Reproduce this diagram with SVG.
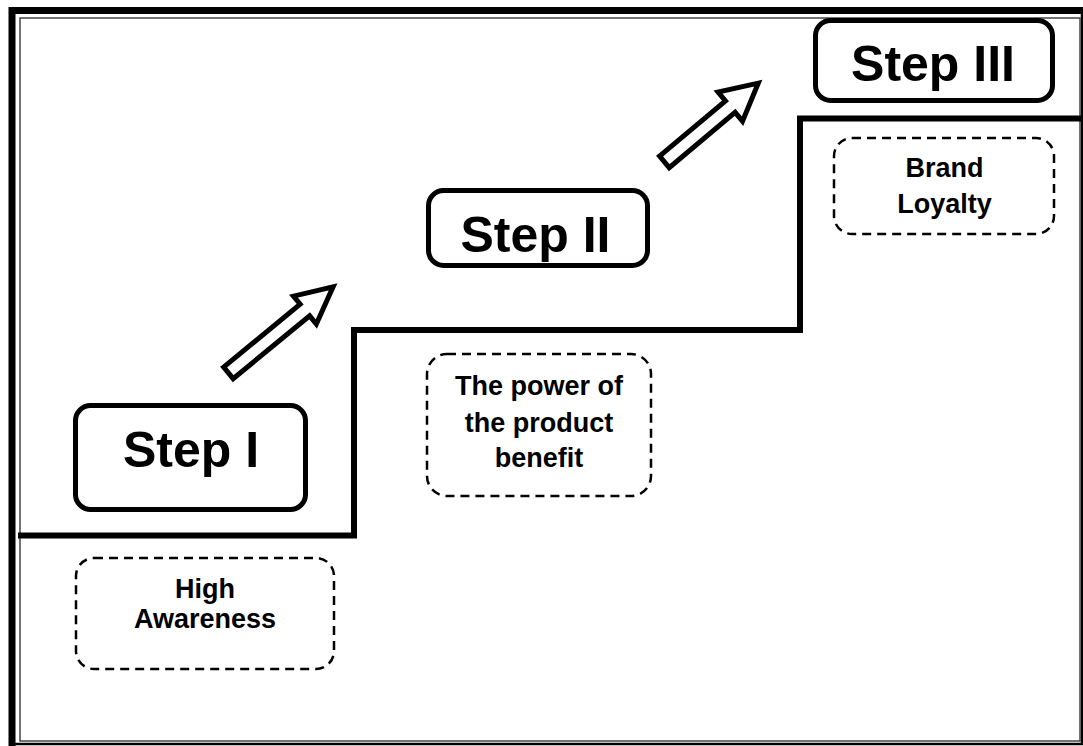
<svg xmlns="http://www.w3.org/2000/svg" width="1083" height="746" viewBox="0 0 1083 746">
<style>
.step{fill:#fff;stroke:#000;stroke-width:5}
.dash{fill:#fff;stroke:#000;stroke-width:2.5;stroke-dasharray:9 6}
.big{font-family:"Liberation Sans",Arial,sans-serif;font-weight:bold;font-size:50px;text-anchor:middle;fill:#000}
.small{font-family:"Liberation Sans",Arial,sans-serif;font-weight:bold;font-size:27px;text-anchor:middle;fill:#000}
.arrow{fill:#fff;stroke:#000;stroke-width:5;stroke-linejoin:miter}
</style>
<rect x="0" y="0" width="1083" height="746" fill="#fff"/>
<g id="frame">
<path d="M12,746 V10.5 H1083" fill="none" stroke="#000" stroke-width="7"/>
<path d="M1082,10 V744 H12" fill="none" stroke="#000" stroke-width="2.5"/>
<rect x="20" y="18" width="1060" height="723" fill="none" stroke="#444" stroke-width="1.5"/>
</g>
<g id="connectors">
<polyline points="18,535.5 354,535.5 354,330 800,330 800,118.5 1081,118.5" fill="none" stroke="#000" stroke-width="6" stroke-linejoin="miter"/>
<path class="arrow" transform="translate(228.4,372.9) rotate(-39.4)" d="M0,-7.5 L99,-7.5 L99,-18 L135.5,0 L99,18 L99,7.5 L0,7.5 Z"/>
<path class="arrow" transform="translate(664.4,161.9) rotate(-40)" d="M0,-7.5 L86,-7.5 L86,-19 L122.5,0 L86,19 L86,7.5 L0,7.5 Z"/>
</g>
<g id="step1">
<rect class="step" x="75.5" y="405.5" width="230" height="104" rx="15"/>
<text class="big" x="191" y="467" font-size="48">Step I</text>
</g>
<g id="step2">
<rect class="step" x="428.5" y="190.5" width="219" height="75" rx="15"/>
<text class="big" x="535.5" y="252">Step II</text>
</g>
<g id="step3">
<rect class="step" x="815.5" y="20.5" width="237" height="80" rx="15"/>
<text class="big" x="933" y="81">Step III</text>
</g>
<g id="awareness">
<rect class="dash" x="76" y="558" width="258" height="111" rx="18"/>
<text class="small" x="205" y="598">High</text>
<text class="small" x="205" y="628">Awareness</text>
</g>
<g id="benefit">
<rect class="dash" x="427" y="354" width="224" height="142" rx="20"/>
<text class="small" x="539" y="395">The power of</text>
<text class="small" x="539" y="432">the product</text>
<text class="small" x="539" y="467">benefit</text>
</g>
<g id="loyalty">
<rect class="dash" x="834" y="138" width="220" height="96" rx="18"/>
<text class="small" x="944.5" y="177">Brand</text>
<text class="small" x="944.5" y="213">Loyalty</text>
</g>
</svg>
